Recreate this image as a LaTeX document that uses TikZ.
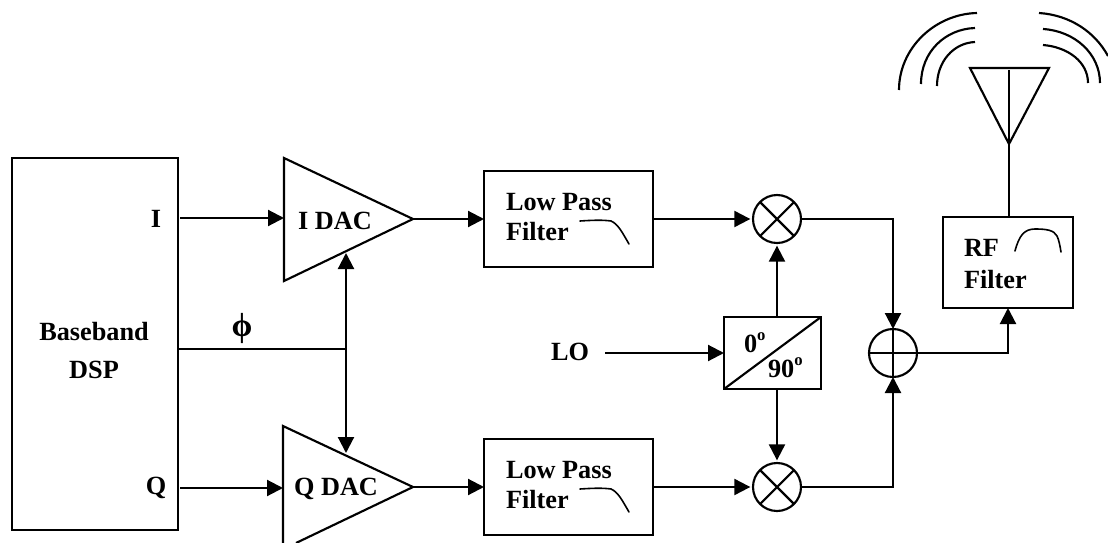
\documentclass[tikz,border=0pt]{standalone}
\usepackage{fontspec}
\setmainfont{Liberation Serif}
\usetikzlibrary{arrows.meta}
\newcommand{\degmark}{\raisebox{.42em}{\fontsize{12.5}{13}\selectfont o}}
\tikzset{
  x=.75pt,y=-.75pt,
  line/.style={line width=1.6pt,line cap=butt,line join=miter},
  arr/.style={line,-{Triangle[length=12pt,width=12pt]}},
  thin curve/.style={line width=1.2pt,line cap=round},
  blk/.style={draw,line width=1.6pt,rectangle,inner sep=0pt,outer sep=0pt},
  ring/.style={draw,line width=1.6pt,circle,minimum size=36pt,inner sep=0pt,outer sep=0pt},
  lbl/.style={font=\fontsize{19.7}{22.5}\selectfont\bfseries,inner sep=0pt,outer sep=0pt,text=black},
}
\begin{document}
\begin{tikzpicture}
\useasboundingbox (0,0) rectangle (1108,543);
% blocks
\node[blk,minimum width=124.5pt,minimum height=279pt] (dsp) at (95,344) {};
\node[blk,minimum width=126.75pt,minimum height=72pt] (lpfi) at (568.5,219) {};
\node[blk,minimum width=126.75pt,minimum height=72pt] (lpfq) at (568.5,487) {};
\node[blk,minimum width=72.75pt,minimum height=54pt] (phase) at (772.5,353) {};
\node[blk,minimum width=97.5pt,minimum height=68.25pt] (rf) at (1008,262.5) {};
\node[ring] (mixi) at (777,219) {};
\node[ring] (mixq) at (777,487) {};
\node[ring] (sum) at (893,353) {};
% DAC triangles
\coordinate (idacin) at (284,218);
\coordinate (idacout) at (413,219);
\coordinate (idacctl) at (346,253);
\coordinate (qdacin) at (283,488);
\coordinate (qdacout) at (413,487);
\coordinate (qdacctl) at (346,453);
\draw[line] (284,158) -- (idacout) -- (284,281) -- cycle;
\draw[line] (296,543) -- (qdacout) -- (283,426) -- (283,543);
% mixer and adder marks
\draw[line] (mixi.45) -- (mixi.225) (mixi.135) -- (mixi.315);
\draw[line] (mixq.45) -- (mixq.225) (mixq.135) -- (mixq.315);
\draw[line] (sum.north) -- (sum.south) (sum.west) -- (sum.east);
\draw[line] (phase.south west) -- (phase.north east);
% labels
\node[lbl,anchor=base] (ilabel) at (156,227) {I};
\node[lbl,anchor=base] (qlabel) at (156,494) {Q};
\node[lbl,align=center] (dsplabel) at (94,351) {Baseband\\[6pt]DSP};
\node[font=\fontsize{25}{27}\selectfont\bfseries,inner sep=0pt] (philabel) at (242,328) {ϕ};
\node[lbl] (idaclabel) at (335,221) {I DAC};
\node[lbl,anchor=base] (qdaclabel) at (336,495) {Q DAC};
\node[lbl,align=left,anchor=west] (lpfilabel) at (506,217) {Low Pass\\Filter};
\node[lbl,align=left,anchor=west] (lpfqlabel) at (506,485) {Low Pass\\Filter};
\node[lbl] (lolabel) at (570,352) {LO};
\node[lbl,anchor=base west] (zero) at (744,352) {0\degmark};
\node[lbl,anchor=base west] (ninety) at (768,377) {90\degmark};
\node[lbl,align=left,anchor=west] (rflabel) at (964,264) {RF\\[1pt]Filter};
% connectors
\coordinate (dspi) at (180,218);
\coordinate (dspq) at (180,488);
\coordinate (lostart) at (605,353);
\coordinate (phij) at (346,349);
\draw[arr] (dspi) -- (idacin);
\draw[arr] (dspq) -- (qdacin);
\draw[line] (dsp.east |- phij) -- (phij);
\draw[arr] (phij) -- (idacctl);
\draw[arr] (phij) -- (qdacctl);
\draw[arr] (idacout) -- (lpfi.west);
\draw[arr] (qdacout) -- (lpfq.west);
\draw[arr,shorten >=2pt] (lpfi.east) -- (mixi.west);
\draw[arr,shorten >=2pt] (lpfq.east) -- (mixq.west);
\draw[arr] (lostart) -- (lostart -| phase.west);
\draw[arr,shorten >=2pt] (mixi |- phase.north) -- (mixi.south);
\draw[arr,shorten >=2pt] (mixq |- phase.south) -- (mixq.north);
\draw[arr] (mixi.east) -| (sum.north);
\draw[arr] (mixq.east) -| (sum.south);
\draw[arr] (sum.east) -| (rf.south);
% filter curves
\draw[thin curve] (580,221) .. controls (595,220) and (604,220) .. (611,221) .. controls (618,224) and (622,232) .. (629,244);
\draw[thin curve] (580,489) .. controls (595,488) and (604,488) .. (611,489) .. controls (618,492) and (622,500) .. (629,512);
\draw[thin curve] (1015,251) .. controls (1019,236) and (1024,229) .. (1035,229) .. controls (1046,229) and (1054,230) .. (1057,236) .. controls (1059,240) and (1060,246) .. (1061,252);
% antenna
\coordinate (apex) at (1009,144);
\draw[line] (970,68) -- (1049,68) -- (apex) -- cycle;
\draw[line] (1009,70) -- (apex);
\draw[line] (apex) -- (rf.north -| apex);
% radio waves
\draw[line] (899,90) .. controls (899,48) and (935,14) .. (977,13);
\draw[line] (921,84) .. controls (921,52) and (945,29) .. (975,28);
\draw[line] (937,86) .. controls (937,62) and (953,43) .. (975,42);
\draw[line] (1039,13) .. controls (1070,15) and (1095,32) .. (1108,56);
\draw[line] (1043,29) .. controls (1075,31) and (1100,54) .. (1100,83);
\draw[line] (1043,45) .. controls (1068,47) and (1088,62) .. (1088,83);
\end{tikzpicture}
\end{document}
